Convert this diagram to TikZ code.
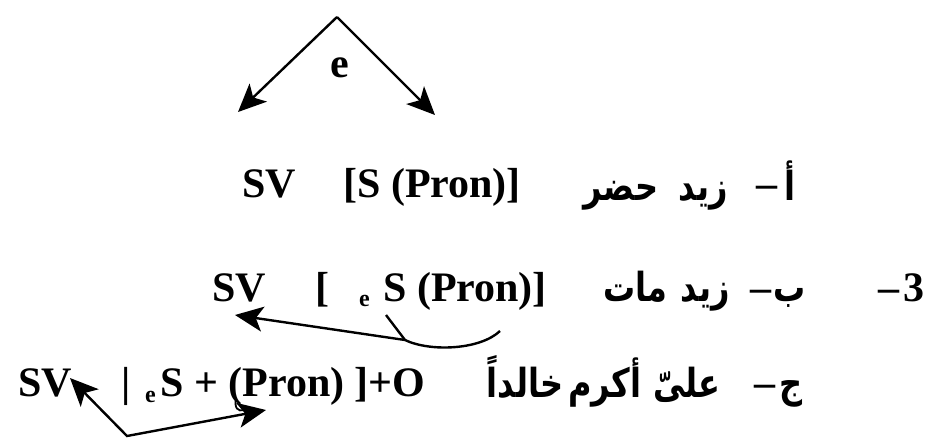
\documentclass[tikz,border=0pt]{standalone}
\usepackage{fontspec}
\setmainfont{Liberation Serif}
\newfontfamily\arabicfont[Script=Arabic,FakeStretch=0.8]{DejaVu Sans}
\TeXXeTstate=1
\usetikzlibrary{arrows.meta}
\tikzset{bigtip/.tip={Stealth[length=28pt,width=25pt,inset=7pt]}}
\begin{document}
\begin{tikzpicture}[x=1pt,y=-1pt,
  lat/.style={font=\fontsize{42}{50}\selectfont\bfseries, inner sep=0pt, anchor=base west},
  latc/.style={font=\fontsize{42}{50}\selectfont\bfseries, inner sep=0pt, anchor=base},
  ar/.style={font=\fontsize{40}{48}\selectfont\arabicfont\bfseries, inner sep=0pt, anchor=base},
  subsc/.style={font=\fontsize{24}{28}\selectfont\bfseries, inner sep=0pt, anchor=base west},
  arr/.style={line width=2.4pt, -{bigtip}},
  lnk/.style={line width=2.4pt}]
\useasboundingbox (0,0) rectangle (931,437);
% top arrows
\coordinate (apex) at (337,17);
\coordinate (tl) at (238,112);
\coordinate (tr) at (435,115);
\draw[arr] (apex) -- (tl);
\draw[arr] (apex) -- (tr);
\node[latc] (e0) at (340,77) {e};
% line 1
\node[lat] (sv1) at (242,197) {SV};
\node[lat] (br1) at (343,197) {[S (Pron)]};
\node[ar] (a1w1) at (621,200) {\beginR حضر\endR};
\node[ar] (a1w2) at (703,200) {\beginR زيد\endR};
\node[latc] (d1) at (767,197) {–};
\node[ar] (a1l) at (790,200) {\beginR أ\endR};
% line 2
\node[lat] (sv2) at (212,301) {SV};
\node[lat] (ob2) at (315,301) {[};
\node[subsc] (e2) at (359,306) {e};
\node[lat] (s2) at (383,301) {S (Pron)]};
\node[ar] (a2w1) at (635,301) {\beginR مات\endR};
\node[ar] (a2w2) at (705,301) {\beginR زيد\endR};
\node[latc] (d2) at (761,301) {–};
\node[ar] (a2l) at (790,301) {\beginR ب\endR};
\node[latc] (d2b) at (889,301) {–};
\node[latc] (n3) at (914,301) {3};
% line 3
\node[lat] (sv3) at (18,396) {SV};
\node[lat] (bar3) at (121,396) {|};
\node[subsc] (e3) at (145,402) {e};
\node[lat] (s3) at (160,396) {S + (Pron) ]+O};
\node[ar] (a3w1) at (525,397) {\beginR خالداً\endR};
\node[ar] (a3w2) at (605,397) {\beginR أكرم\endR};
\node[ar] (a3w3) at (687,397) {\beginR علىّ\endR};
\node[latc] (d3) at (765,396) {–};
\node[ar] (a3l) at (791,397) {\beginR ج\endR};
% line 2 curved arrow
\coordinate (c2r) at (500,331);
\coordinate (c2j) at (405,340);
\coordinate (c2s) at (386,315);
\coordinate (t2) at (235,315);
\draw[arr] (c2r) .. controls (480,350) and (430,352) .. (c2j) -- (t2);
\draw[lnk] (c2s) -- (c2j);
% line 3 double arrow
\coordinate (t3a) at (70,378);
\coordinate (v3) at (127,436);
\coordinate (t3b) at (266,410);
\draw[line width=2.4pt, {bigtip}-{bigtip}] (t3a) -- (v3) -- (t3b);
\coordinate (h3) at (236,398);
\coordinate (h3e) at (244,410);
\draw[line width=1.8pt] (h3) .. controls (234,408) and (238,412) .. (h3e);
\end{tikzpicture}
\end{document}
